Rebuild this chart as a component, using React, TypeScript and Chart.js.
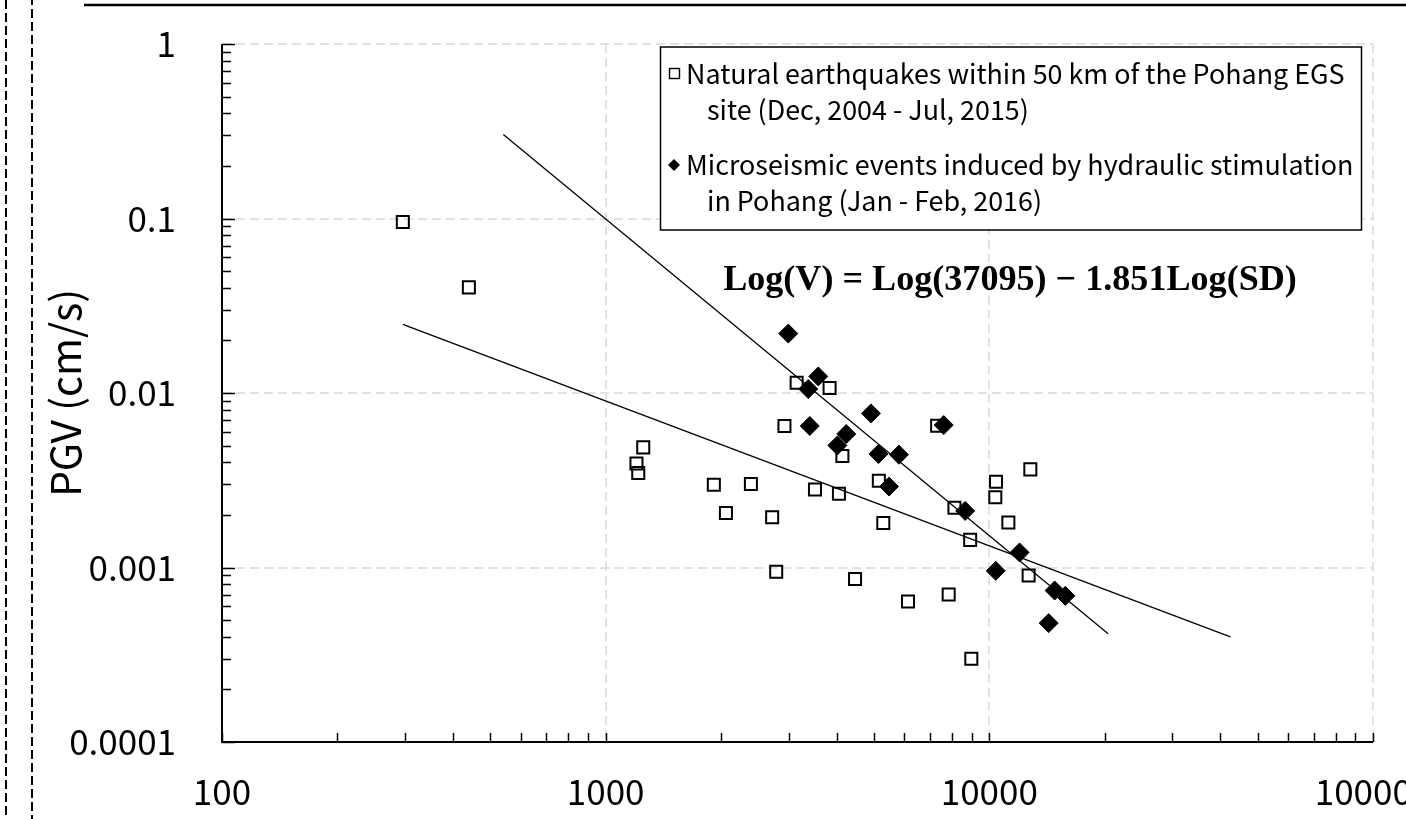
import React, { useEffect, useRef } from 'react';
import { Chart, registerables } from 'chart.js';

Chart.register(...registerables);

// ---- Data ----
const naturalSD = [296, 440, 1253, 1203, 1216, 1914, 2058, 2391, 2716, 2783, 2924, 3146, 3512, 3834, 4055, 4140, 4467, 5152, 5292, 6138, 7311, 7835, 8110, 8913, 8975, 10410, 10365, 11210, 12660, 12790];
const naturalPGV = [0.0956, 0.0403, 0.00488, 0.00395, 0.00348, 0.00298, 0.00205, 0.00301, 0.00194, 0.000945, 0.00647, 0.01146, 0.0028, 0.01068, 0.00265, 0.00435, 0.000858, 0.00314, 0.0018, 0.000638, 0.00649, 0.0007, 0.0022, 0.00144, 0.0003, 0.0031, 0.00253, 0.00181, 0.0009, 0.00365];

const microSD = [2992, 3582, 3373, 4915, 7605, 3404, 4237, 4018, 5140, 5813, 5477, 8650, 11990, 10390, 14800, 15780, 14280];
const microPGV = [0.0219, 0.01245, 0.01054, 0.00764, 0.00655, 0.00647, 0.00582, 0.00501, 0.00447, 0.00443, 0.00291, 0.00211, 0.00122, 0.000957, 0.000738, 0.000688, 0.00048];

const fitSteepSD = [541, 20400];
const fitSteepPGV = [0.303, 0.000417];
const fitShallowSD = [296, 42500];
const fitShallowPGV = [0.0247, 0.0004];

const xTickValues = [100, 1000, 10000, 100000];
const xTickLabels = ['100', '1000', '10000', '100000'];
const yTickValues = [0.0001, 0.001, 0.01, 0.1, 1];
const yTickLabels = ['0.0001', '0.001', '0.01', '0.1', '1'];

const xTitle = 'Scaled distance, SD (m/kg^1/2)';
const yTitle = 'PGV (cm/s)';
const legendNatural = ['Natural earthquakes within 50 km of the Pohang EGS', 'site (Dec, 2004 - Jul, 2015)'];
const legendMicro = ['Microseismic events induced by hydraulic stimulation', 'in Pohang (Jan - Feb, 2016)'];
const equationText = 'Log(V) = Log(37095) \u2212 1.851Log(SD)';

// ---- Layout constants ----
const W = 1406;
const H = 880;
const FONT = '"Noto Sans CJK KR", "Noto Sans", sans-serif';

const toPoints = (xs: number[], ys: number[]) => xs.map((x, i) => ({ x, y: ys[i] }));

const zeroPadding = (s: any) => {
  s.paddingLeft = 0;
  s.paddingRight = 0;
  s.paddingTop = 0;
  s.paddingBottom = 0;
};

const decorPlugin = {
  id: 'decor',
  beforeDatasetsDraw(chart: any) {
    const { ctx, chartArea: a, scales } = chart;
    const xs = scales.x;
    const ys = scales.y;
    ctx.save();
    // dashed major grid lines
    ctx.strokeStyle = '#d9d9d9';
    ctx.lineWidth = 1.5;
    ctx.setLineDash([9, 5]);
    xTickValues.slice(1).forEach((v) => {
      const px = Math.round(xs.getPixelForValue(v));
      ctx.beginPath();
      ctx.moveTo(px, a.top);
      ctx.lineTo(px, a.bottom);
      ctx.stroke();
    });
    yTickValues.slice(1).forEach((v) => {
      const py = Math.round(ys.getPixelForValue(v));
      ctx.beginPath();
      ctx.moveTo(a.left, py);
      ctx.lineTo(a.right, py);
      ctx.stroke();
    });
    ctx.setLineDash([]);
    // axis lines
    ctx.strokeStyle = '#000';
    ctx.lineWidth = 2;
    ctx.beginPath();
    ctx.moveTo(a.left, a.top);
    ctx.lineTo(a.left, a.bottom);
    ctx.lineTo(a.right, a.bottom);
    ctx.stroke();
    // inward tick marks
    ctx.lineWidth = 1.5;
    for (let d = 0; d < xTickValues.length; d++) {
      const base = xTickValues[d];
      const maxM = d === xTickValues.length - 1 ? 1 : 9;
      for (let m = 1; m <= maxM; m++) {
        const px = Math.round(xs.getPixelForValue(base * m)) + 0.5;
        ctx.beginPath();
        ctx.moveTo(px, a.bottom);
        ctx.lineTo(px, a.bottom - 9);
        ctx.stroke();
      }
    }
    for (let d = 0; d < yTickValues.length; d++) {
      const base = yTickValues[d];
      const maxM = d === yTickValues.length - 1 ? 1 : 9;
      for (let m = 1; m <= maxM; m++) {
        const py = Math.round(ys.getPixelForValue(base * m)) + 0.5;
        ctx.beginPath();
        ctx.moveTo(a.left, py);
        ctx.lineTo(a.left + (m === 1 ? 13 : 9), py);
        ctx.stroke();
      }
    }
    ctx.restore();
  },
  afterDraw(chart: any) {
    const { ctx } = chart;
    ctx.save();
    // figure frame fragments
    ctx.strokeStyle = '#000';
    ctx.lineWidth = 2.5;
    ctx.beginPath();
    ctx.moveTo(84, 5);
    ctx.lineTo(W, 5);
    ctx.stroke();
    ctx.lineWidth = 2;
    ctx.setLineDash([9, 4]);
    [6, 32].forEach((x, i) => {
      ctx.lineDashOffset = i * 4;
      ctx.beginPath();
      ctx.moveTo(x, 0);
      ctx.lineTo(x, H);
      ctx.stroke();
    });
    ctx.setLineDash([]);

    // legend box
    const bx = 660.5, by = 47, bw = 701, bh = 183;
    ctx.fillStyle = '#fff';
    ctx.fillRect(bx, by, bw, bh);
    ctx.strokeStyle = '#000';
    ctx.lineWidth = 1.5;
    ctx.strokeRect(bx, by, bw, bh);

    ctx.font = `28px ${FONT}`;
    const w1 = ctx.measureText(legendNatural[0]).width;
    const fs = Math.min(32, 28 * 659 / w1);
    ctx.font = `${fs}px ${FONT}`;
    ctx.fillStyle = '#000';
    ctx.textBaseline = 'middle';
    ctx.textAlign = 'left';
    // square marker
    ctx.lineWidth = 1.4;
    ctx.strokeRect(669.5, 68.5, 10, 10);
    ctx.fillText(legendNatural[0], 686, 74);
    ctx.fillText(legendNatural[1], 707, 110);
    // diamond marker
    ctx.beginPath();
    ctx.moveTo(674, 159);
    ctx.lineTo(680, 165);
    ctx.lineTo(674, 171);
    ctx.lineTo(668, 165);
    ctx.closePath();
    ctx.fill();
    ctx.fillText(legendMicro[0], 686, 165);
    ctx.fillText(legendMicro[1], 707, 201);

    // equation
    ctx.font = `bold 32px "Liberation Serif", "DejaVu Serif", serif`;
    const we = ctx.measureText(equationText).width;
    const efs = 32 * 574 / we;
    ctx.font = `bold ${efs}px "Liberation Serif", "DejaVu Serif", serif`;
    ctx.textAlign = 'center';
    ctx.fillText(equationText, 1010, 281);
    ctx.restore();
  },
};

export default function App() {
  const canvasRef = useRef<HTMLCanvasElement | null>(null);

  useEffect(() => {
    const canvas = canvasRef.current;
    if (!canvas) return;
    const chart = new Chart(canvas, {
      type: 'scatter',
      data: {
        datasets: [
          {
            label: 'Microseismic events',
            data: toPoints(microSD, microPGV),
            pointStyle: 'rectRot',
            pointRadius: 9.5,
            backgroundColor: '#000',
            borderColor: '#000',
            borderWidth: 1,
            order: 0,
          },
          {
            label: 'Fit (microseismic)',
            data: toPoints(fitSteepSD, fitSteepPGV),
            showLine: true,
            pointRadius: 0,
            borderColor: '#000',
            borderWidth: 1.3,
            fill: false,
            order: 1,
          },
          {
            label: 'Fit (natural)',
            data: toPoints(fitShallowSD, fitShallowPGV),
            showLine: true,
            pointRadius: 0,
            borderColor: '#000',
            borderWidth: 1.3,
            fill: false,
            order: 1,
          },
          {
            label: 'Natural earthquakes',
            data: toPoints(naturalSD, naturalPGV),
            pointStyle: 'rect',
            pointRadius: 8.5,
            backgroundColor: 'rgba(0,0,0,0)',
            borderColor: '#000',
            borderWidth: 2,
            order: 2,
          },
        ],
      },
      options: {
        responsive: false,
        animation: false,
        devicePixelRatio: 1,
        events: [],
        layout: { padding: { left: 0, right: 33, top: 44, bottom: 0 }, autoPadding: false },
        plugins: {
          legend: { display: false },
          tooltip: { enabled: false },
          title: { display: false },
        },
        scales: {
          x: {
            type: 'logarithmic',
            position: 'bottom',
            min: 100,
            max: 100000,
            afterBuildTicks: (s: any) => {
              s.ticks = xTickValues.map((v) => ({ value: v }));
            },
            afterFit: (s: any) => {
              s.height = H - 742;
              zeroPadding(s);
            },
            grid: { display: false },
            border: { display: false },
            ticks: {
              autoSkip: false,
              maxRotation: 0,
              padding: 21,
              color: '#000',
              font: { family: FONT, size: 35 },
              callback: (_v: any, i: number) => xTickLabels[i],
            },
            title: {
              display: true,
              text: xTitle,
              color: '#000',
              font: { family: FONT, size: 40 },
              padding: { top: 0, bottom: 19 },
            },
          },
          y: {
            type: 'logarithmic',
            position: 'left',
            min: 0.0001,
            max: 1,
            afterBuildTicks: (s: any) => {
              s.ticks = yTickValues.map((v) => ({ value: v }));
            },
            afterFit: (s: any) => {
              s.width = 222;
              zeroPadding(s);
            },
            grid: { display: false },
            border: { display: false },
            ticks: {
              autoSkip: false,
              padding: 38,
              color: '#000',
              font: { family: FONT, size: 35 },
              callback: (_v: any, i: number) => yTickLabels[i],
            },
            title: {
              display: true,
              text: yTitle,
              color: '#000',
              font: { family: FONT, size: 41 },
              padding: { top: 41, bottom: 0 },
            },
          },
        },
      } as any,
      plugins: [decorPlugin],
    });
    return () => chart.destroy();
  }, []);

  return (
    <div
      style={{
        position: 'fixed',
        left: 0,
        top: 0,
        width: W,
        height: 819,
        overflow: 'hidden',
        background: '#fff',
      }}
    >
      <canvas ref={canvasRef} width={W} height={H} style={{ display: 'block', width: W, height: H }} />
    </div>
  );
}
